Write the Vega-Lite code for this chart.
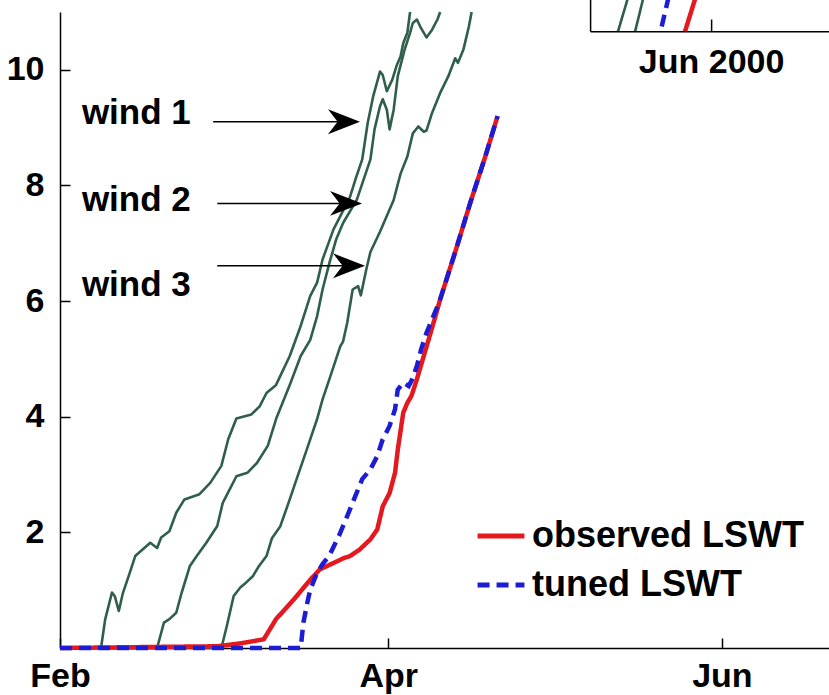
{
 "$schema": "https://vega.github.io/schema/vega-lite/v6.json",
 "width": 769,
 "height": 636,
 "autosize": {"type": "none"},
 "padding": {"left": 60, "top": 12, "right": 0, "bottom": 47},
 "background": "white",
 "config": {
  "view": {"stroke": null},
  "font": "Liberation Sans",
  "axis": {
   "title": null, "grid": false,
   "domainColor": "black", "domainWidth": 1.5,
   "tickColor": "black", "tickWidth": 1.5, "tickSize": -10,
   "labelFont": "Liberation Sans", "labelFontSize": 34, "labelFontWeight": "bold", "labelColor": "black",
   "labelFlush": false, "labelOverlap": false
  },
  "axisX": {"labelPadding": 21},
  "axisY": {"labelPadding": 26}
 },
 "datasets": {
  "winds": [
   {"series":"wind 1","date":"2000-02-01T00:00","v":0},
   {"series":"wind 1","date":"2000-02-08T12:00","v":0},
   {"series":"wind 1","date":"2000-02-09T06:00","v":0.49},
   {"series":"wind 1","date":"2000-02-10T12:00","v":0.96},
   {"series":"wind 1","date":"2000-02-11T00:00","v":0.9},
   {"series":"wind 1","date":"2000-02-11T18:00","v":0.64},
   {"series":"wind 1","date":"2000-02-12T12:00","v":0.95},
   {"series":"wind 1","date":"2000-02-13T18:00","v":1.3},
   {"series":"wind 1","date":"2000-02-14T18:00","v":1.59},
   {"series":"wind 1","date":"2000-02-17T12:00","v":1.82},
   {"series":"wind 1","date":"2000-02-18T18:00","v":1.73},
   {"series":"wind 1","date":"2000-02-19T12:00","v":1.91},
   {"series":"wind 1","date":"2000-02-21T00:00","v":2.02},
   {"series":"wind 1","date":"2000-02-22T06:00","v":2.34},
   {"series":"wind 1","date":"2000-02-23T18:00","v":2.57},
   {"series":"wind 1","date":"2000-02-26T12:00","v":2.66},
   {"series":"wind 1","date":"2000-02-28T12:00","v":2.86},
   {"series":"wind 1","date":"2000-03-01T12:00","v":3.15},
   {"series":"wind 1","date":"2000-03-02T18:00","v":3.61},
   {"series":"wind 1","date":"2000-03-04T06:00","v":3.97},
   {"series":"wind 1","date":"2000-03-07T00:00","v":4.04},
   {"series":"wind 1","date":"2000-03-08T12:00","v":4.18},
   {"series":"wind 1","date":"2000-03-09T18:00","v":4.41},
   {"series":"wind 1","date":"2000-03-11T12:00","v":4.55},
   {"series":"wind 1","date":"2000-03-14T00:00","v":5.05},
   {"series":"wind 1","date":"2000-03-16T00:00","v":5.57},
   {"series":"wind 1","date":"2000-03-17T18:00","v":6.09},
   {"series":"wind 1","date":"2000-03-19T00:00","v":6.32},
   {"series":"wind 1","date":"2000-03-20T00:00","v":6.72},
   {"series":"wind 1","date":"2000-03-22T00:00","v":7.24},
   {"series":"wind 1","date":"2000-03-23T06:00","v":7.47},
   {"series":"wind 1","date":"2000-03-25T00:00","v":7.8},
   {"series":"wind 1","date":"2000-03-26T00:00","v":8.1},
   {"series":"wind 1","date":"2000-03-27T06:00","v":8.45},
   {"series":"wind 1","date":"2000-03-28T06:00","v":9.08},
   {"series":"wind 1","date":"2000-03-29T06:00","v":9.54},
   {"series":"wind 1","date":"2000-03-30T12:00","v":9.97},
   {"series":"wind 1","date":"2000-03-31T00:00","v":9.91},
   {"series":"wind 1","date":"2000-03-31T18:00","v":9.63},
   {"series":"wind 1","date":"2000-04-01T18:00","v":9.83},
   {"series":"wind 1","date":"2000-04-02T12:00","v":10.06},
   {"series":"wind 1","date":"2000-04-03T06:00","v":10.23},
   {"series":"wind 1","date":"2000-04-03T18:00","v":10.46},
   {"series":"wind 1","date":"2000-04-04T12:00","v":10.64},
   {"series":"wind 1","date":"2000-04-05T00:00","v":11.0},
   {"series":"wind 2","date":"2000-02-01T00:00","v":0},
   {"series":"wind 2","date":"2000-02-18T18:00","v":0},
   {"series":"wind 2","date":"2000-02-20T00:00","v":0.44},
   {"series":"wind 2","date":"2000-02-21T00:00","v":0.5},
   {"series":"wind 2","date":"2000-02-22T06:00","v":0.61},
   {"series":"wind 2","date":"2000-02-23T06:00","v":0.96},
   {"series":"wind 2","date":"2000-02-24T18:00","v":1.42},
   {"series":"wind 2","date":"2000-02-26T00:00","v":1.59},
   {"series":"wind 2","date":"2000-02-27T18:00","v":1.82},
   {"series":"wind 2","date":"2000-02-29T18:00","v":2.11},
   {"series":"wind 2","date":"2000-03-01T18:00","v":2.51},
   {"series":"wind 2","date":"2000-03-03T00:00","v":2.74},
   {"series":"wind 2","date":"2000-03-04T06:00","v":2.97},
   {"series":"wind 2","date":"2000-03-06T06:00","v":3.03},
   {"series":"wind 2","date":"2000-03-08T00:00","v":3.2},
   {"series":"wind 2","date":"2000-03-10T00:00","v":3.5},
   {"series":"wind 2","date":"2000-03-11T12:00","v":3.96},
   {"series":"wind 2","date":"2000-03-14T00:00","v":4.55},
   {"series":"wind 2","date":"2000-03-16T00:00","v":5.05},
   {"series":"wind 2","date":"2000-03-17T18:00","v":5.33},
   {"series":"wind 2","date":"2000-03-19T00:00","v":5.74},
   {"series":"wind 2","date":"2000-03-20T00:00","v":6.2},
   {"series":"wind 2","date":"2000-03-21T06:00","v":6.66},
   {"series":"wind 2","date":"2000-03-22T12:00","v":7.07},
   {"series":"wind 2","date":"2000-03-23T18:00","v":7.35},
   {"series":"wind 2","date":"2000-03-26T06:00","v":7.75},
   {"series":"wind 2","date":"2000-03-27T12:00","v":8.1},
   {"series":"wind 2","date":"2000-03-28T18:00","v":8.45},
   {"series":"wind 2","date":"2000-03-29T12:00","v":8.97},
   {"series":"wind 2","date":"2000-03-30T12:00","v":9.37},
   {"series":"wind 2","date":"2000-03-31T00:00","v":9.49},
   {"series":"wind 2","date":"2000-03-31T18:00","v":9.31},
   {"series":"wind 2","date":"2000-04-01T06:00","v":8.97},
   {"series":"wind 2","date":"2000-04-02T00:00","v":9.31},
   {"series":"wind 2","date":"2000-04-02T18:00","v":9.89},
   {"series":"wind 2","date":"2000-04-04T00:00","v":10.35},
   {"series":"wind 2","date":"2000-04-05T00:00","v":10.64},
   {"series":"wind 2","date":"2000-04-05T12:00","v":10.81},
   {"series":"wind 2","date":"2000-04-06T06:00","v":10.87},
   {"series":"wind 2","date":"2000-04-07T00:00","v":10.72},
   {"series":"wind 2","date":"2000-04-08T00:00","v":10.56},
   {"series":"wind 2","date":"2000-04-09T00:00","v":10.69},
   {"series":"wind 2","date":"2000-04-10T00:00","v":10.87},
   {"series":"wind 2","date":"2000-04-10T12:00","v":11.0},
   {"series":"wind 3","date":"2000-02-01T00:00","v":0},
   {"series":"wind 3","date":"2000-03-01T12:00","v":0},
   {"series":"wind 3","date":"2000-03-02T12:00","v":0.38},
   {"series":"wind 3","date":"2000-03-03T18:00","v":0.9},
   {"series":"wind 3","date":"2000-03-05T00:00","v":1.05},
   {"series":"wind 3","date":"2000-03-06T00:00","v":1.13},
   {"series":"wind 3","date":"2000-03-07T06:00","v":1.24},
   {"series":"wind 3","date":"2000-03-08T06:00","v":1.4},
   {"series":"wind 3","date":"2000-03-09T18:00","v":1.59},
   {"series":"wind 3","date":"2000-03-10T18:00","v":1.9},
   {"series":"wind 3","date":"2000-03-12T06:00","v":2.1},
   {"series":"wind 3","date":"2000-03-14T00:00","v":2.57},
   {"series":"wind 3","date":"2000-03-15T06:00","v":2.92},
   {"series":"wind 3","date":"2000-03-17T00:00","v":3.4},
   {"series":"wind 3","date":"2000-03-19T00:00","v":3.96},
   {"series":"wind 3","date":"2000-03-20T00:00","v":4.3},
   {"series":"wind 3","date":"2000-03-21T06:00","v":4.65},
   {"series":"wind 3","date":"2000-03-23T06:00","v":5.22},
   {"series":"wind 3","date":"2000-03-23T18:00","v":5.3},
   {"series":"wind 3","date":"2000-03-24T12:00","v":5.62},
   {"series":"wind 3","date":"2000-03-25T12:00","v":6.2},
   {"series":"wind 3","date":"2000-03-26T12:00","v":6.26},
   {"series":"wind 3","date":"2000-03-27T00:00","v":6.1},
   {"series":"wind 3","date":"2000-03-28T00:00","v":6.55},
   {"series":"wind 3","date":"2000-03-28T18:00","v":6.85},
   {"series":"wind 3","date":"2000-03-30T12:00","v":7.2},
   {"series":"wind 3","date":"2000-04-02T00:00","v":7.75},
   {"series":"wind 3","date":"2000-04-03T06:00","v":8.2},
   {"series":"wind 3","date":"2000-04-04T12:00","v":8.5},
   {"series":"wind 3","date":"2000-04-05T12:00","v":8.9},
   {"series":"wind 3","date":"2000-04-06T12:00","v":9.02},
   {"series":"wind 3","date":"2000-04-07T12:00","v":8.93},
   {"series":"wind 3","date":"2000-04-08T00:00","v":8.95},
   {"series":"wind 3","date":"2000-04-09T00:00","v":9.25},
   {"series":"wind 3","date":"2000-04-10T12:00","v":9.6},
   {"series":"wind 3","date":"2000-04-12T00:00","v":9.89},
   {"series":"wind 3","date":"2000-04-13T06:00","v":10.2},
   {"series":"wind 3","date":"2000-04-13T18:00","v":10.12},
   {"series":"wind 3","date":"2000-04-14T18:00","v":10.35},
   {"series":"wind 3","date":"2000-04-15T18:00","v":10.75},
   {"series":"wind 3","date":"2000-04-16T06:00","v":11.0},
   {"series":"wind 1 inset","date":"2000-05-13T00:00","v":10.66},
   {"series":"wind 1 inset","date":"2000-05-14T18:00","v":11.22},
   {"series":"wind 2 inset","date":"2000-05-16T03:00","v":10.66},
   {"series":"wind 2 inset","date":"2000-05-17T14:00","v":11.22}
  ],
  "lswt": [
   {"series":"observed LSWT","part":"main","date":"2000-02-01T00:00","v":0},
   {"series":"observed LSWT","part":"main","date":"2000-02-29T18:00","v":0.03},
   {"series":"observed LSWT","part":"main","date":"2000-03-05T00:00","v":0.08},
   {"series":"observed LSWT","part":"main","date":"2000-03-09T06:00","v":0.15},
   {"series":"observed LSWT","part":"main","date":"2000-03-11T12:00","v":0.5},
   {"series":"observed LSWT","part":"main","date":"2000-03-14T18:00","v":0.84},
   {"series":"observed LSWT","part":"main","date":"2000-03-17T18:00","v":1.18},
   {"series":"observed LSWT","part":"main","date":"2000-03-19T12:00","v":1.36},
   {"series":"observed LSWT","part":"main","date":"2000-03-22T00:00","v":1.47},
   {"series":"observed LSWT","part":"main","date":"2000-03-23T18:00","v":1.55},
   {"series":"observed LSWT","part":"main","date":"2000-03-25T00:00","v":1.59},
   {"series":"observed LSWT","part":"main","date":"2000-03-26T18:00","v":1.7},
   {"series":"observed LSWT","part":"main","date":"2000-03-28T18:00","v":1.88},
   {"series":"observed LSWT","part":"main","date":"2000-03-30T00:00","v":2.05},
   {"series":"observed LSWT","part":"main","date":"2000-03-31T00:00","v":2.45},
   {"series":"observed LSWT","part":"main","date":"2000-04-01T06:00","v":2.68},
   {"series":"observed LSWT","part":"main","date":"2000-04-02T06:00","v":3.03},
   {"series":"observed LSWT","part":"main","date":"2000-04-02T18:00","v":3.43},
   {"series":"observed LSWT","part":"main","date":"2000-04-03T18:00","v":4.07},
   {"series":"observed LSWT","part":"main","date":"2000-04-04T12:00","v":4.24},
   {"series":"observed LSWT","part":"main","date":"2000-04-05T06:00","v":4.36},
   {"series":"observed LSWT","part":"main","date":"2000-04-06T06:00","v":4.65},
   {"series":"observed LSWT","part":"main","date":"2000-04-07T12:00","v":5.05},
   {"series":"observed LSWT","part":"main","date":"2000-04-08T18:00","v":5.45},
   {"series":"observed LSWT","part":"main","date":"2000-04-10T00:00","v":5.86},
   {"series":"observed LSWT","part":"main","date":"2000-04-10T12:00","v":6.03},
   {"series":"observed LSWT","part":"main","date":"2000-04-13T06:00","v":6.85},
   {"series":"observed LSWT","part":"main","date":"2000-04-16T00:00","v":7.7},
   {"series":"observed LSWT","part":"main","date":"2000-04-18T18:00","v":8.5},
   {"series":"observed LSWT","part":"main","date":"2000-04-21T00:00","v":9.2},
   {"series":"observed LSWT","part":"inset","date":"2000-05-25T06:00","v":10.66},
   {"series":"observed LSWT","part":"inset","date":"2000-05-27T02:00","v":11.22},
   {"series":"tuned LSWT","part":"main","date":"2000-02-01T00:00","v":0},
   {"series":"tuned LSWT","part":"main","date":"2000-03-16T00:00","v":0},
   {"series":"tuned LSWT","part":"main","date":"2000-03-16T12:00","v":0.44},
   {"series":"tuned LSWT","part":"main","date":"2000-03-17T06:00","v":0.8},
   {"series":"tuned LSWT","part":"main","date":"2000-03-17T18:00","v":1.01},
   {"series":"tuned LSWT","part":"main","date":"2000-03-19T00:00","v":1.3},
   {"series":"tuned LSWT","part":"main","date":"2000-03-20T00:00","v":1.45},
   {"series":"tuned LSWT","part":"main","date":"2000-03-21T06:00","v":1.6},
   {"series":"tuned LSWT","part":"main","date":"2000-03-23T00:00","v":1.94},
   {"series":"tuned LSWT","part":"main","date":"2000-03-24T12:00","v":2.28},
   {"series":"tuned LSWT","part":"main","date":"2000-03-26T00:00","v":2.63},
   {"series":"tuned LSWT","part":"main","date":"2000-03-27T06:00","v":2.92},
   {"series":"tuned LSWT","part":"main","date":"2000-03-28T18:00","v":3.09},
   {"series":"tuned LSWT","part":"main","date":"2000-03-30T00:00","v":3.32},
   {"series":"tuned LSWT","part":"main","date":"2000-03-31T00:00","v":3.61},
   {"series":"tuned LSWT","part":"main","date":"2000-04-01T06:00","v":3.84},
   {"series":"tuned LSWT","part":"main","date":"2000-04-02T06:00","v":4.13},
   {"series":"tuned LSWT","part":"main","date":"2000-04-02T18:00","v":4.47},
   {"series":"tuned LSWT","part":"main","date":"2000-04-03T18:00","v":4.59},
   {"series":"tuned LSWT","part":"main","date":"2000-04-04T18:00","v":4.53},
   {"series":"tuned LSWT","part":"main","date":"2000-04-05T06:00","v":4.62},
   {"series":"tuned LSWT","part":"main","date":"2000-04-06T06:00","v":4.88},
   {"series":"tuned LSWT","part":"main","date":"2000-04-07T00:00","v":5.16},
   {"series":"tuned LSWT","part":"main","date":"2000-04-08T00:00","v":5.45},
   {"series":"tuned LSWT","part":"main","date":"2000-04-09T00:00","v":5.68},
   {"series":"tuned LSWT","part":"main","date":"2000-04-10T00:00","v":5.91},
   {"series":"tuned LSWT","part":"main","date":"2000-04-10T12:00","v":6.03},
   {"series":"tuned LSWT","part":"main","date":"2000-04-13T06:00","v":6.85},
   {"series":"tuned LSWT","part":"main","date":"2000-04-16T00:00","v":7.7},
   {"series":"tuned LSWT","part":"main","date":"2000-04-18T18:00","v":8.5},
   {"series":"tuned LSWT","part":"main","date":"2000-04-21T00:00","v":9.2},
   {"series":"tuned LSWT","part":"inset","date":"2000-05-21T00:00","v":10.75},
   {"series":"tuned LSWT","part":"inset","date":"2000-05-22T04:00","v":11.22}
  ],
  "segments": [
   {"from":"2000-02-29T00:00","to":"2000-03-23T22:00","v":9.1,"v2":9.1},
   {"from":"2000-02-29T18:00","to":"2000-03-24T07:00","v":7.69,"v2":7.69},
   {"from":"2000-02-29T18:00","to":"2000-03-24T20:00","v":6.61,"v2":6.61},
   {"from":"2000-05-08T00:00","to":"2000-06-20T14:00","v":10.66,"v2":10.66},
   {"from":"2000-05-08T00:00","to":"2000-05-08T00:00","v":10.66,"v2":11.22},
   {"from":"2000-05-30T03:00","to":"2000-05-30T03:00","v":10.66,"v2":10.87}
  ],
  "heads": [
   {"date":"2000-03-23T22:00","v":9.1},
   {"date":"2000-03-24T07:00","v":7.69},
   {"date":"2000-03-24T20:00","v":6.61}
  ],
  "labels": [
   {"label":"wind 1","date":"2000-02-05T00:00","v":9.06},
   {"label":"wind 2","date":"2000-02-05T00:00","v":7.56},
   {"label":"wind 3","date":"2000-02-05T00:00","v":6.09}
  ],
  "insetLabel": [
   {"label":"Jun 2000","date":"2000-05-30T03:00","v":9.94}
  ]
 },
 "layer": [
  {
   "data": {"name": "winds"},
   "mark": {"type": "line", "color": "#2f5e4c", "strokeWidth": 2.6, "strokeJoin": "round"},
   "encoding": {
    "x": {
     "field": "date", "type": "temporal",
     "scale": {"domain": [{"year": 2000, "month": 2, "date": 1}, {"year": 2000, "month": 6, "date": 20, "hours": 14}], "nice": false},
     "axis": {
      "values": [{"year": 2000, "month": 2, "date": 1}, {"year": 2000, "month": 4, "date": 1}, {"year": 2000, "month": 6, "date": 1}],
      "format": "%b"
     }
    },
    "y": {
     "field": "v", "type": "quantitative",
     "scale": {"domain": [0, 11], "nice": false, "zero": false},
     "axis": {"values": [2, 4, 6, 8, 10], "format": "d"}
    },
    "detail": {"field": "series"}
   }
  },
  {
   "data": {"name": "lswt"},
   "mark": {"type": "line", "strokeWidth": 4.5},
   "encoding": {
    "x": {"field": "date", "type": "temporal"},
    "y": {"field": "v", "type": "quantitative"},
    "color": {
     "field": "series", "type": "nominal",
     "scale": {"domain": ["observed LSWT", "tuned LSWT"], "range": ["#e3191f", "#1c1cd4"]},
     "legend": {"title": null, "orient": "none", "legendX": 415, "legendY": 498, "direction": "vertical",
      "symbolType": "stroke", "symbolSize": 2200, "symbolStrokeWidth": 5,
      "labelFont": "Liberation Sans", "labelFontSize": 36, "labelFontWeight": "bold", "labelColor": "black",
      "labelOffset": 5, "rowPadding": 5, "padding": 0, "labelLimit": 400}
    },
    "strokeDash": {
     "field": "series", "type": "nominal",
     "scale": {"domain": ["observed LSWT", "tuned LSWT"], "range": [[1, 0], [12, 7]]},
     "legend": {"title": null, "orient": "none", "legendX": 415, "legendY": 498, "direction": "vertical",
      "symbolType": "stroke", "symbolSize": 2200, "symbolStrokeWidth": 5,
      "labelFont": "Liberation Sans", "labelFontSize": 36, "labelFontWeight": "bold", "labelColor": "black",
      "labelOffset": 5, "rowPadding": 5, "padding": 0, "labelLimit": 400}
    },
    "detail": {"field": "part"}
   }
  },
  {
   "data": {"name": "segments"},
   "mark": {"type": "rule", "color": "black", "strokeWidth": 1.5},
   "encoding": {
    "x": {"field": "from", "type": "temporal"},
    "x2": {"field": "to"},
    "y": {"field": "v", "type": "quantitative"},
    "y2": {"field": "v2"}
   }
  },
  {
   "data": {"name": "heads"},
   "mark": {"type": "point", "shape": "M1,0L-1,-0.78L-0.4,0L-1,0.78Z", "size": 1024, "filled": true, "color": "black", "opacity": 1, "strokeWidth": 0},
   "encoding": {
    "x": {"field": "date", "type": "temporal"},
    "y": {"field": "v", "type": "quantitative"}
   }
  },
  {
   "data": {"name": "labels"},
   "mark": {"type": "text", "align": "left", "baseline": "alphabetic", "font": "Liberation Sans", "fontSize": 35, "fontWeight": "bold", "color": "black"},
   "encoding": {
    "x": {"field": "date", "type": "temporal"},
    "y": {"field": "v", "type": "quantitative"},
    "text": {"field": "label"}
   }
  },
  {
   "data": {"name": "insetLabel"},
   "mark": {"type": "text", "align": "center", "baseline": "alphabetic", "font": "Liberation Sans", "fontSize": 34, "fontWeight": "bold", "color": "black"},
   "encoding": {
    "x": {"field": "date", "type": "temporal"},
    "y": {"field": "v", "type": "quantitative"},
    "text": {"field": "label"}
   }
  }
 ]
}
